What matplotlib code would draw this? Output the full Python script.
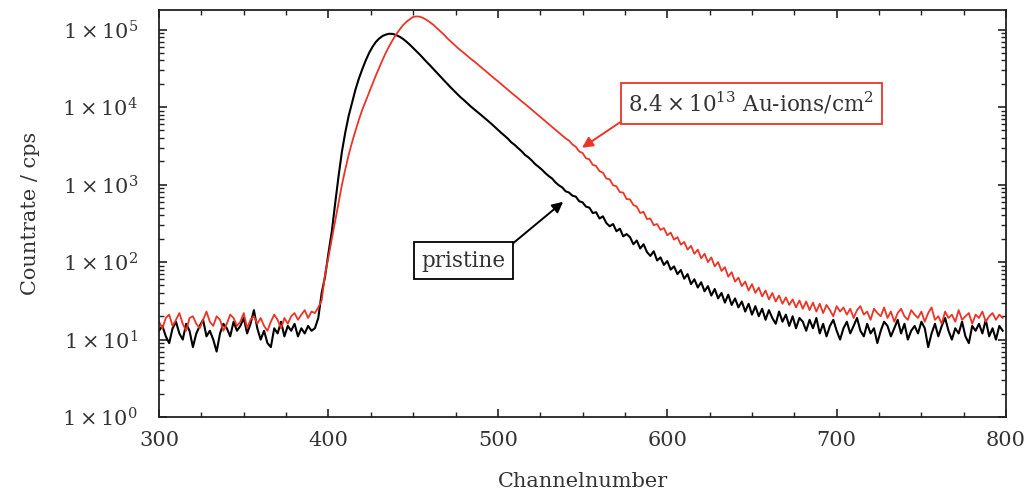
import numpy as np
import matplotlib.pyplot as plt
from matplotlib.ticker import FuncFormatter, LogLocator, MultipleLocator, NullFormatter

plt.rcParams['font.family'] = ['DejaVu Serif']
plt.rcParams['mathtext.fontset'] = 'dejavuserif'

# channel axis (every 2nd channel)
channels = np.arange(300, 800, 2)

pristine = [
    # 300 - 394
    13, 15, 11, 9, 14, 17, 12, 10, 16, 13, 8, 12, 15, 18, 11, 13, 10, 7, 12, 16,
    14, 11, 17, 13, 15, 19, 12, 16, 24, 14, 10, 13, 9, 8, 14, 12, 17, 11, 15, 13,
    16, 11, 14, 12, 15, 13, 14, 19,
    # 396 - 448
    40, 65, 130, 250, 580, 1300, 2700, 4800, 7800, 11500,
    17000, 23500, 31000, 40000, 50000, 60000, 69500, 77000, 83000, 86500,
    88500, 88000, 85000, 81000, 76000, 70000, 64000,
    # 450 - 540
    58000, 52500, 47500, 42500, 38200, 34500, 31000, 27800, 24900, 22400,
    20100, 18100, 16400, 14800, 13400, 12300, 11200, 10200, 9400, 8650,
    7950, 7300, 6700, 6150, 5600, 5100, 4650, 4270, 3900, 3500,
    3250, 2950, 2700, 2420, 2250, 2050, 1840, 1700, 1560, 1410,
    1290, 1200, 1070, 980, 920, 820,
    # 542 - 690
    790, 720, 700, 610, 590, 520, 505, 430, 440, 365,
    390, 320, 290, 310, 250, 270, 215, 230, 210, 170,
    190, 150, 170, 135, 120, 138, 105, 115, 92, 103,
    80, 88, 70, 79, 61, 70, 52, 60, 47, 55,
    42, 49, 37, 45, 34, 40, 30, 38, 28, 34,
    26, 31, 23, 29, 21, 27, 20, 25, 18, 24,
    19, 16, 23, 17, 21, 15, 20, 14, 19, 17,
    13, 18, 14, 19, 12,
    # 692 - 798
    16, 11, 15, 18, 13, 10, 14, 17, 12, 15,
    19, 13, 11, 16, 12, 14, 9, 13, 17, 15,
    11, 14, 18, 12, 16, 10, 13, 15, 12, 17,
    14, 8, 12, 16, 11, 15, 19, 13, 10, 14,
    12, 17, 11, 9, 15, 13, 16, 12, 18, 11,
    14, 10, 15, 13,
]

irradiated = [
    # 300 - 394
    17, 14, 19, 21, 15, 18, 22, 16, 13, 19, 20, 16, 14, 18, 23, 17, 15, 20, 18, 13,
    16, 21, 19, 15, 17, 22, 14, 18, 20, 16, 19, 15, 13, 17, 21, 18, 14, 19, 16, 20,
    22, 18, 21, 24, 19, 23, 22, 26,
    # 396 - 448
    32, 70, 115, 200, 340, 580, 1000, 1600, 2450, 3550,
    5000, 6900, 9300, 12000, 15500, 20000, 25700, 32500, 41000, 51000,
    62000, 74000, 87000, 100000, 114000, 126000, 136000,
    # 450 - 540
    146000, 148000, 147000, 141000, 133000, 124000, 115000, 105000, 95500, 87000,
    78000, 71000, 64500, 59000, 54000, 50000, 45800, 42000, 39000, 35800,
    33000, 30200, 27800, 25400, 23400, 21600, 19800, 18200, 16700, 15300,
    14100, 13000, 11900, 11000, 10100, 9300, 8500, 7800, 7150, 6600,
    6050, 5550, 5100, 4700, 4300, 3950,
    # 542 - 690
    3700, 3300, 3080, 2680, 2560, 2190, 2120, 1800, 1740, 1490,
    1430, 1200, 1170, 980, 950, 800, 790, 650, 645, 545,
    520, 430, 445, 360, 365, 300, 310, 260, 275, 222,
    240, 195, 210, 168, 182, 145, 162, 128, 145, 112,
    128, 100, 115, 88, 100, 77, 86, 65, 74, 56,
    63, 49, 56, 43, 52, 40, 47, 36, 43, 33,
    40, 31, 37, 29, 35, 28, 33, 26, 32, 25,
    31, 24, 30, 23, 29,
    # 692 - 798
    22, 28, 24, 20, 27, 23, 26, 21, 25, 19,
    24, 27, 21, 23, 18, 25, 22, 20, 26, 19,
    23, 17, 22, 25, 20, 18, 24, 21, 19, 23,
    17, 22, 26, 18, 20, 16, 23, 19, 21, 17,
    24, 18, 20, 22, 16, 21, 19, 23, 17, 20,
    22, 18, 21, 19,
]

red = '#ec3426'
txt = '#333333'

fig = plt.figure(figsize=(10.28, 4.93), dpi=100)
ax = fig.add_axes([0.1547, 0.154, 0.824, 0.826])

ax.plot(channels, pristine, color='black', lw=1.5)
ax.plot(channels, irradiated, color=red, lw=1.3)

ax.set_yscale('log')
ax.set_xlim(300, 800)
ax.set_ylim(1, 1.8e5)

ax.xaxis.set_major_locator(MultipleLocator(100))
ax.xaxis.set_minor_locator(MultipleLocator(25))
ax.yaxis.set_major_locator(LogLocator(base=10, numticks=10))
ax.yaxis.set_minor_locator(LogLocator(base=10, subs=np.arange(2, 10), numticks=20))
ax.yaxis.set_minor_formatter(NullFormatter())
ax.yaxis.set_major_formatter(FuncFormatter(lambda v, p: r'$1\times10^{%d}$' % round(np.log10(v))))

ax.tick_params(which='both', direction='in', top=True, right=True, colors='#222222',
               labelcolor=txt, labelsize=15)
ax.tick_params(which='major', length=6, width=1.2)
ax.tick_params(which='minor', length=3.5, width=1.0)
ax.tick_params(axis='x', which='major', pad=10)
ax.tick_params(axis='y', which='major', pad=15)
for s in ax.spines.values():
    s.set_linewidth(1.3)
    s.set_color('#222222')

ax.set_xlabel('Channelnumber', fontsize=15, color=txt, labelpad=16)
ax.set_ylabel('Countrate / cps', fontsize=15, color=txt, labelpad=16)

ax.annotate(r'$8.4\times10^{13}$ Au-ions/cm$^2$', xy=(549.7, 2990), xytext=(649.5, 11070),
            ha='center', va='center', fontsize=15.5, color=txt,
            bbox=dict(boxstyle='square,pad=0.35', fc='white', ec=red, lw=1.3),
            arrowprops=dict(arrowstyle='-|>', color=red, lw=1.4, relpos=(0, 0),
                            shrinkA=0, shrinkB=0, mutation_scale=16))
ax.annotate('pristine', xy=(538.5, 600), xytext=(479.5, 104),
            ha='center', va='center', fontsize=15.5, color=txt,
            bbox=dict(boxstyle='square,pad=0.35', fc='white', ec='black', lw=1.3),
            arrowprops=dict(arrowstyle='-|>', color='black', lw=1.4, relpos=(1, 1),
                            shrinkA=0, shrinkB=0, mutation_scale=16))

fig.savefig('out.png', dpi=100)
